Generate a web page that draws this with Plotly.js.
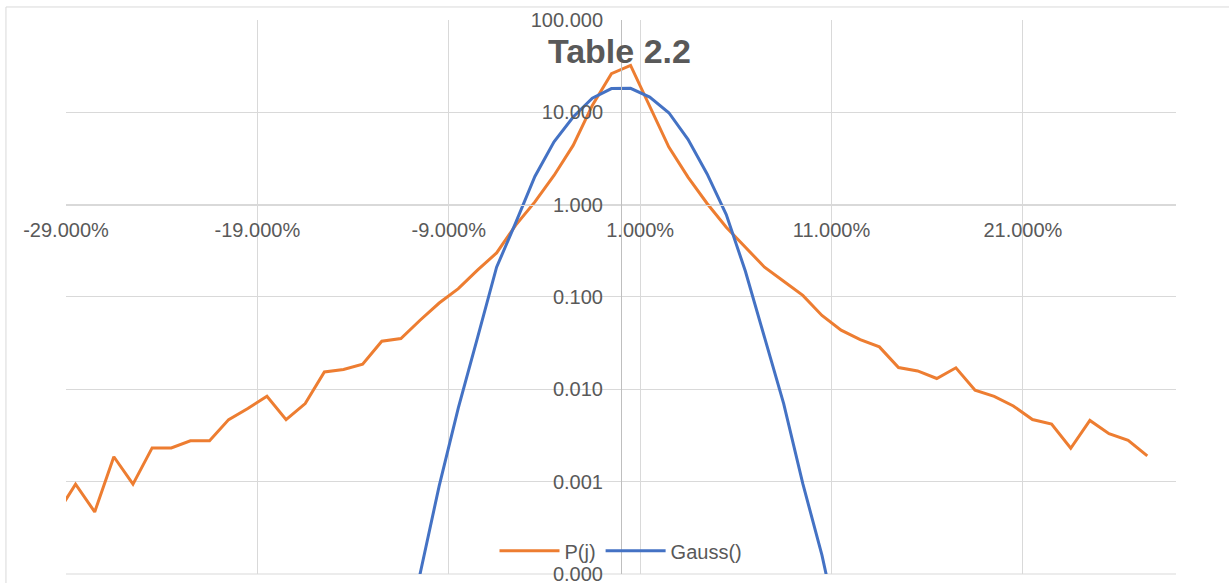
<!DOCTYPE html>
<html>
<head>
<meta charset="utf-8">
<script src="https://cdn.plot.ly/plotly-3.0.1.min.js"></script>
<style>html,body{margin:0;padding:0;background:#fff;}#chart{width:1229px;height:583px;}</style>
</head>
<body>
<div id="chart"></div>
<script>
// x positions in percent
const xP = [-29.5,-28.5,-27.5,-26.5,-25.5,-24.5,-23.5,-22.5,-21.5,-20.5,-19.5,-18.5,-17.5,-16.5,-15.5,-14.5,-13.5,-12.5,-11.5,-10.5,-9.5,-8.5,-7.5,-6.5,-5.5,-4.5,-3.5,-2.5,-1.5,-0.5,0.5,1.5,2.5,3.5,4.5,5.5,6.5,7.5,8.5,9.5,10.5,11.5,12.5,13.5,14.5,15.5,16.5,17.5,18.5,19.5,20.5,21.5,22.5,23.5,24.5,25.5,26.5,27.5];
const pj = [0.00044,0.00094,0.00047,0.00186,0.00094,0.00232,0.00232,0.00277,0.00277,0.0047,0.0062,0.0084,0.0047,0.0070,0.0154,0.0164,0.0187,0.0332,0.0355,0.056,0.086,0.123,0.195,0.30,0.60,1.07,2.07,4.38,11.9,26.2,32.2,11.4,4.2,1.99,1.03,0.57,0.35,0.21,0.148,0.104,0.063,0.0437,0.0346,0.0288,0.0172,0.0158,0.0131,0.0171,0.0098,0.0084,0.0066,0.0047,0.0042,0.0023,0.0046,0.0033,0.0028,0.0019];
const xG = [-11.5,-10.5,-9.5,-8.5,-7.5,-6.5,-5.5,-4.5,-3.5,-2.5,-1.5,-0.5,0.5,1.5,2.5,3.5,4.5,5.5,6.5,7.5,8.5,9.5,10.5,11.5];
const gauss = [0.000008,0.0001,0.0009,0.0063,0.036,0.21,0.64,2.02,4.8,8.9,14.2,18.1,18.2,14.6,9.9,5.1,2.15,0.78,0.19,0.037,0.0070,0.00095,0.00016,0.000018];
const xTickVals = [-29,-19,-9,1,11,21];
const xTickText = ['-29.000%','-19.000%','-9.000%','1.000%','11.000%','21.000%'];
const yTickVals = [0.0001,0.001,0.01,0.1,1,10,100];
const yTickText = ['0.000','0.001','0.010','0.100','1.000','10.000','100.000'];

const FONT = 'Liberation Sans, Arial, sans-serif';
const traces = [
  {x: xP, y: pj, name: 'P(j)', type: 'scatter', mode: 'lines', line: {color: '#ED7D31', width: 3}},
  {x: xG, y: gauss, name: 'Gauss()', type: 'scatter', mode: 'lines', line: {color: '#4472C4', width: 3}}
];
const layout = {
  width: 1229, height: 583,
  margin: {l: 66, r: 53, t: 20, b: 9},
  paper_bgcolor: '#fff', plot_bgcolor: '#fff',
  font: {family: FONT, color: '#595959', size: 20},
  title: {text: '<b>Table 2.2</b>', x: 0.504, xanchor: 'center', y: 0.912, yanchor: 'middle',
          font: {family: FONT, size: 34, color: '#595959'}},
  showlegend: true,
  legend: {orientation: 'h', x: 0.5, xanchor: 'center', y: 0.042, yanchor: 'middle', itemwidth: 60,
           bgcolor: 'rgba(0,0,0,0)', font: {family: FONT, size: 20, color: '#595959'}},
  xaxis: {range: [-29, 29], tickmode: 'array', tickvals: xTickVals, ticktext: xTickText,
          showgrid: true, gridcolor: '#d9d9d9', gridwidth: 1, zeroline: false,
          anchor: 'free', position: 0.6667, showline: true, linecolor: '#d9d9d9', linewidth: 1,
          ticks: '', ticklabelstandoff: 7, ticklabeloverflow: 'allow',
          tickfont: {family: FONT, size: 20, color: '#595959'}},
  yaxis: {type: 'log', range: [-4.0005, 2], tickmode: 'array', tickvals: yTickVals, ticktext: yTickText,
          showgrid: true, gridcolor: '#d9d9d9', gridwidth: 1, zeroline: false,
          anchor: 'free', position: 0.5, showline: true, linecolor: '#bfbfbf', linewidth: 1,
          ticks: '', ticklabelstandoff: 14, ticklabeloverflow: 'allow',
          tickfont: {family: FONT, size: 20, color: '#595959'}},
  shapes: [
    {type: 'rect', xref: 'paper', yref: 'paper', x0: -0.0541, x1: 1.06, y0: -0.06, y1: 1.0235,
     line: {color: '#d9d9d9', width: 1}, fillcolor: 'rgba(0,0,0,0)', layer: 'below'},
    {type: 'line', xref: 'paper', yref: 'paper', x0: 0, x1: 1, y0: 0, y1: 0,
     line: {color: '#d9d9d9', width: 1}, layer: 'below'}
  ]
};
Plotly.newPlot('chart', traces, layout, {displayModeBar: false, staticPlot: true});
</script>
</body>
</html>
